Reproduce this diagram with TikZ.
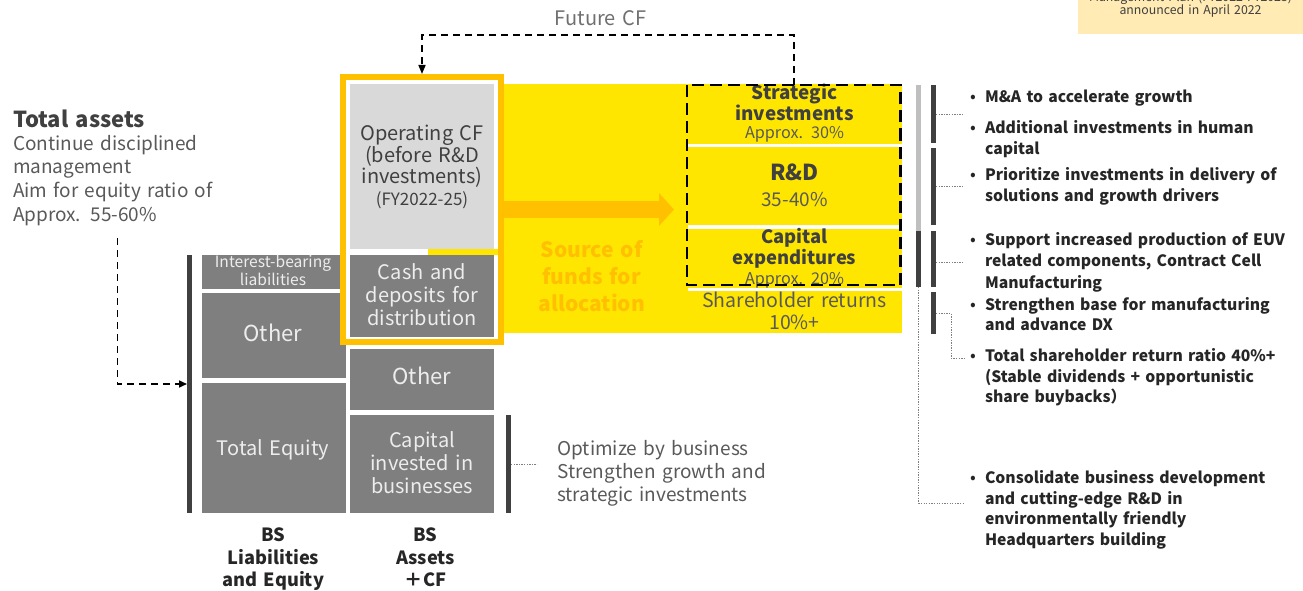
\documentclass[tikz,border=0pt]{standalone}
\usepackage{fontspec}
\setmainfont{Noto Sans CJK JP}
\usetikzlibrary{arrows.meta}

\definecolor{ylw}{HTML}{FFE600}
\definecolor{org}{HTML}{FFC000}
\definecolor{boxg}{HTML}{7F7F7F}
\definecolor{boxl}{HTML}{D9D9D9}
\definecolor{tdk}{HTML}{404040}
\definecolor{tgr}{HTML}{595959}
\definecolor{tlt}{HTML}{EDEDED}
\definecolor{barD}{HTML}{404040}
\definecolor{barL}{HTML}{BFBFBF}
\definecolor{notec}{HTML}{FFEBB3}
\definecolor{blk}{HTML}{262626}
\definecolor{dotc}{HTML}{7F7F7F}
\definecolor{fcfc}{HTML}{6F6F6F}

\newcommand\fsz[2]{\fontsize{#1}{#2}\selectfont}

\begin{document}
\begin{tikzpicture}[x=1pt,y=-1pt,
  lbl/.style={inner sep=0pt, outer sep=0pt, anchor=base, align=center, text width=#1},
  lbl/.default=220pt,
  lbll/.style={inner sep=0pt, outer sep=0pt, anchor=base west, align=left, text width=#1},
  lbll/.default=340pt,
  blkbox/.style={fill=boxg, inner sep=0pt, outer sep=0pt, anchor=north west, minimum width=144},
  bar/.style={fill=barD, inner sep=0pt, outer sep=0pt, minimum width=5},
  fdash/.style={draw=black, line width=1.6pt, dash pattern=on 7pt off 5pt},
  dotline/.style={draw=dotc, line width=0.9pt, dash pattern=on 1.3pt off 1.3pt},
  bigarrow/.style={draw=org, line width=17pt, -{Triangle[length=15pt,width=32pt]}},
  bul/.style={lbll, text=blk, font=\bfseries\fsz{15.7}{20.8}},
]
\useasboundingbox (0,0) rectangle (1303,591);

% plan note in the corner
\node[fill=notec, inner sep=0pt, outer sep=0pt, anchor=north west, minimum width=225, minimum height=34.3] (note) at (1078,0) {};
\node[lbl, text=tdk, font=\fsz{12.3}{13.5}] (notetxt) at (1190.5,1.5) {Management Plan (FY2022-FY2025)\\announced in April 2022};

% yellow allocation field
\fill[ylw] (498,84) rectangle (902,333);
\fill[ylw] (428,249) rectangle (498,255);
\fill[white] (688,143.5) rectangle (902,146.5);
\fill[white] (688,225.3) rectangle (902,229);
\fill[white] (688,287.5) rectangle (902,290.5);

% balance sheet blocks
\node[blkbox, fill=boxl, minimum height=165] (opcf) at (350,84) {};
\node[blkbox, minimum height=82] (cash) at (350,255) {};
\node[blkbox, minimum height=60.5] (othR) at (350,349) {};
\node[blkbox, minimum height=98.3] (capinv) at (350,415) {};
\node[blkbox, minimum height=33.5] (ibl) at (202,255) {};
\node[blkbox, minimum height=85] (othL) at (202,293.3) {};
\node[blkbox, minimum height=130.6] (teq) at (202,382.7) {};

% source-of-funds frame and arrow
\node[draw=org, line width=6pt, minimum width=158, minimum height=265, inner sep=0pt] (frame) at (422,209.5) {};
\node[inner sep=0pt, outer sep=0pt, minimum width=213.5, minimum height=200] (alloc) at (793.75,185) {};
\draw[bigarrow] (frame.east) -- ([xshift=-13pt]alloc.west |- frame.east);

% texts in the blocks
\node[lbl, text=tdk, font=\fsz{20}{21.5}] (opcft) at (422,140.7) {Operating CF\\(before R\&D\\investments)};
\node[lbl, text=tdk, font=\fsz{17}{18}] (opcfy) at (422,205.7) {(FY2022-25)};
\node[lbl, text=tlt, font=\fsz{20}{23}] (casht) at (422,279) {Cash and\\deposits for\\distribution};
\node[lbl, text=tlt, font=\fsz{22}{23}] (othRt) at (422,384) {Other};
\node[lbl, text=tlt, font=\fsz{20}{23}] (capinvt) at (422,447.3) {Capital\\invested in\\businesses};
\node[lbl, text=tlt, font=\fsz{15.6}{17.7}] (iblt) at (273,267.3) {Interest-bearing\\liabilities};
\node[lbl, text=tlt, font=\fsz{22}{23}] (othLt) at (273,341.7) {Other};
\node[lbl, text=tlt, font=\fsz{20}{23}] (teqt) at (273,455) {Total Equity};

\node[lbl, text=blk, font=\bfseries\fsz{18.2}{22.5}] (bsl) at (273.5,541.7) {BS\\Liabilities\\and Equity};
\node[lbl, text=blk, font=\bfseries\fsz{18.2}{22.5}] (bsa) at (425.5,541.7) {BS\\Assets\\＋CF};

\node[lbl, text=org, font=\bfseries\fsz{21}{27}] (src) at (591.7,257.3) {Source of\\funds for\\allocation};

% allocation items
\node[lbl, text=tdk, font=\bfseries\fsz{18.8}{21.5}] (si) at (794.5,99.3) {Strategic\\investments};
\node[lbl, text=tgr, font=\fsz{16.2}{18}] (sip) at (794.5,138.3) {Approx. 30\%};
\node[lbl, text=tdk, font=\bfseries\fsz{22}{24}] (rd) at (794.5,180.7) {R\&D};
\node[lbl, text=tgr, font=\fsz{19}{20}] (rdp) at (794.5,206) {35-40\%};
\node[lbl, text=tdk, font=\bfseries\fsz{18.4}{21}] (cx) at (794.5,243.3) {Capital\\expenditures};
\node[lbl, text=tgr, font=\fsz{16.2}{18}] (cxp) at (794.5,284.3) {Approx. 20\%};
\node[lbl, text=tgr, font=\fsz{19.5}{21.7}] (shr) at (794.5,307.3) {Shareholder returns\\10\%+};

\draw[black, line width=2.8pt, dash pattern=on 12pt off 6pt] (alloc.north west) rectangle (alloc.south east);

% future cash flow loop
\coordinate (fcf) at (0,35);
\draw[fdash, -{Triangle[length=9pt,width=7pt]}] (alloc.north) -- (alloc.north |- fcf) -| (frame.north);
\node[lbl, text=fcfc, font=\fsz{20}{21}] (fcft) at (600.5,25.7) {Future CF};

% total assets note
\node[lbll, text=tdk, font=\bfseries\fsz{22}{26}] (ta) at (13,127.3) {Total assets};
\node[lbll=230pt, text=tgr, font=\fsz{19}{23.8}] (tad) at (13,150) {Continue disciplined\\management\\Aim for equity ratio of\\Approx. 55-60\%};
\node[bar, minimum height=258] (lbar) at (189.5,384) {};
\coordinate (tastart) at (117.3,238);
\draw[fdash, -{Triangle[length=8pt,width=7pt]}] (tastart) |- (lbar.west);

% business capital note
\node[bar, minimum height=98] (cbar) at (508.5,464) {};
\coordinate (c8) at (537,464);
\draw[dotline] (cbar.east) -- (c8);
\node[lbll=240pt, text=tgr, font=\fsz{19}{23}] (opt) at (557.3,455) {Optimize by business\\Strengthen growth and\\strategic investments};

% bars beside the allocation
\node[bar, fill=barL, minimum height=146] (gbar1) at (918.5,158) {};
\node[bar, minimum height=56] (gbar2) at (918.5,259) {};
\node[bar, minimum height=58] (rb1) at (933.5,114) {};
\node[bar, minimum height=77] (rb2) at (933.5,186.5) {};
\node[bar, minimum height=56] (rb3) at (933.5,259) {};
\node[bar, minimum height=42] (rb4) at (933.5,313) {};

\coordinate (c1) at (964,114);
\coordinate (c2) at (964,186.5);
\coordinate (c3) at (964,262);
\coordinate (k6) at (951,313);
\coordinate (c6) at (965,358);
\coordinate (c7) at (965,503);
\draw[dotline] (rb1.east) -- (c1);
\draw[dotline] (rb2.east) -- (c2);
\draw[dotline] (rb3.east |- c3) -- (c3);
\draw[dotline] (rb4.east) -- (k6) |- (c6);
\draw[dotline] (gbar2.south) |- (c7);

% measures
\newcommand\bulmark{\llap{\makebox[14pt][c]{\mdseries\fsz{17}{17}•}\hspace{5pt}}}
\node[bul] (b1) at (985,102.3) {\bulmark M\&A to accelerate growth};
\node[bul] (b2) at (985,133.3) {\bulmark Additional investments in human\\capital};
\node[bul] (b3) at (985,180.7) {\bulmark Prioritize investments in delivery of\\solutions and growth drivers};
\node[bul, font=\bfseries\fsz{15.7}{21.2}] (b4) at (985,245.7) {\bulmark Support increased production of EUV\\related components, Contract Cell\\Manufacturing};
\node[bul] (b5) at (985,310) {\bulmark Strengthen base for manufacturing\\and advance DX};
\node[bul, font=\bfseries\fsz{15.7}{20.5}] (b6) at (985,361.7) {\bulmark Total shareholder return ratio 40\%+\\(Stable dividends + opportunistic\\share buybacks）};
\node[bul] (b7) at (985,483.3) {\bulmark Consolidate business development\\and cutting-edge R\&D in\\environmentally friendly\\Headquarters building};
\end{tikzpicture}
\end{document}
